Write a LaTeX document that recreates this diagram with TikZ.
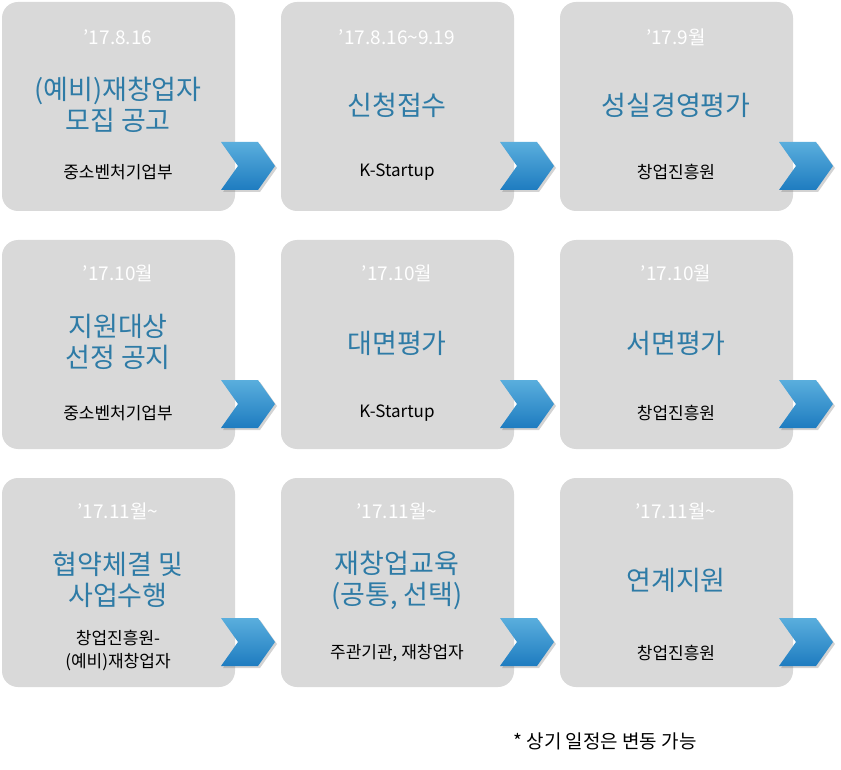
\documentclass[tikz,border=0pt]{standalone}
\usepackage{fontspec}
\setmainfont{Noto Sans CJK KR}
\usetikzlibrary{shadows}
\definecolor{boxg}{HTML}{D9D9D9}
\definecolor{ttl}{HTML}{2E7BA6}
\definecolor{chA}{HTML}{5AAEDD}
\definecolor{chB}{HTML}{1E7CC0}
\tikzset{
 card/.style={fill=boxg,rounded corners=16pt,draw=none},
 dt/.style={text=white,font=\fontsize{19}{21}\selectfont},
 tt/.style={text=ttl,font=\fontsize{27}{31}\selectfont,align=center},
 sb/.style={text=black,font=\fontsize{17}{23}\selectfont,align=center},
 chev/.style={top color=chA,bottom color=chB,draw=none,drop shadow={opacity=0.35,shadow xshift=2pt,shadow yshift=-2pt}}
}
\begin{document}
\begin{tikzpicture}[x=1pt,y=-1pt]
\useasboundingbox (0,0) rectangle (841,770);
\foreach \c in {0,1,2}{
 \foreach \r/\yy in {0/2,1/240,2/478}{
  \pgfmathsetmacro{\xx}{2+279*\c}
  \fill[card] (\xx,\yy) rectangle ++(233,209);
  \path[chev] (\xx+219,\yy+140) -- (\xx+256,\yy+140) -- (\xx+273,\yy+164) -- (\xx+256,\yy+188) -- (\xx+219,\yy+188) -- (\xx+236,\yy+164) -- cycle;
 }}
% row 1
\node[dt] (d1) at (118,37) {’17.8.16};
\node[tt] (t1) at (118,105) {(예비)재창업자\\모집 공고};
\node[sb] (s1) at (118,172) {중소벤처기업부};
\node[dt] (d2) at (397,37) {’17.8.16\textasciitilde9.19};
\node[tt] (t2) at (397,105) {신청접수};
\node[sb] (s2) at (397,172) {K-Startup};
\node[dt] (d3) at (676,37) {’17.9월};
\node[tt] (t3) at (676,105) {성실경영평가};
\node[sb] (s3) at (676,172) {창업진흥원};
% row 2
\node[dt] (d4) at (118,273) {’17.10월};
\node[tt] (t4) at (118,342) {지원대상\\선정 공지};
\node[sb] (s4) at (118,413) {중소벤처기업부};
\node[dt] (d5) at (397,273) {’17.10월};
\node[tt] (t5) at (397,343) {대면평가};
\node[sb] (s5) at (397,413) {K-Startup};
\node[dt] (d6) at (676,273) {’17.10월};
\node[tt] (t6) at (676,343) {서면평가};
\node[sb] (s6) at (676,413) {창업진흥원};
% row 3
\node[dt] (d7) at (118,511) {’17.11월\textasciitilde};
\node[tt] (t7) at (118,580) {협약체결 및\\사업수행};
\node[sb] (s7) at (118,651) {창업진흥원-\\(예비)재창업자};
\node[dt] (d8) at (397,511) {’17.11월\textasciitilde};
\node[tt] (t8) at (397,580) {재창업교육\\(공통, 선택)};
\node[sb] (s8) at (397,653) {주관기관, 재창업자};
\node[dt] (d9) at (676,511) {’17.11월\textasciitilde};
\node[tt] (t9) at (676,580) {연계지원};
\node[sb] (s9) at (676,653) {창업진흥원};
\node[font=\fontsize{19}{21}\selectfont] (fn) at (605,741) {* 상기 일정은 변동 가능};
\end{tikzpicture}
\end{document}
